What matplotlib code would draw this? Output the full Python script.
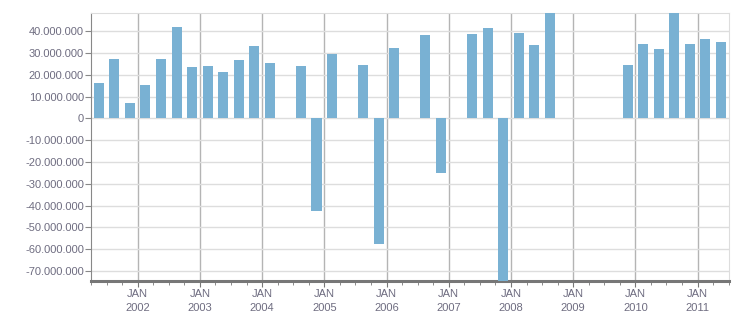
import matplotlib
matplotlib.use('Agg')
import matplotlib.pyplot as plt
import matplotlib.ticker as ticker

# quarterly values in millions (empty quarters are left out)
quarters = ['2001Q2', '2001Q3', '2001Q4',
            '2002Q1', '2002Q2', '2002Q3', '2002Q4',
            '2003Q1', '2003Q2', '2003Q3', '2003Q4',
            '2004Q1', '2004Q3', '2004Q4',
            '2005Q1', '2005Q3', '2005Q4',
            '2006Q1', '2006Q3', '2006Q4',
            '2007Q2', '2007Q3', '2007Q4',
            '2008Q1', '2008Q2', '2008Q3',
            '2009Q4',
            '2010Q1', '2010Q2', '2010Q3', '2010Q4',
            '2011Q1', '2011Q2']
values = [16.2, 27.3, 7.0,
          15.3, 27.3, 42.0, 23.6,
          24.0, 21.3, 26.8, 33.2,
          25.4, 24.0, -42.5,
          29.6, 24.5, -57.7,
          32.3, 38.3, -25.1,
          38.7, 41.5, -80.0,
          39.2, 33.7, 52.0,
          24.5,
          34.1, 31.9, 52.0, 34.1,
          36.4, 35.1]
years = list(range(2002, 2012))
year_labels = ['JAN\n%d' % y for y in years]

# quarter -> middle of the quarter, in fractional years
x = [int(q[:4]) + (int(q[-1]) - 1) / 4 + 0.125 for q in quarters]
y = [v * 1e6 for v in values]

txt = '#6e6c80'
fig = plt.figure(figsize=(7.51, 3.13), dpi=100)
ax = fig.add_axes([91 / 751, 32.3 / 313, 637.7 / 751, 267.4 / 313])

ax.bar(x, y, width=0.162, color='#79b1d3', zorder=3)

ax.set_xlim(2001.25, 2011.5)
ax.set_ylim(-74.5e6, 48.2e6)

ax.yaxis.set_major_locator(ticker.MultipleLocator(10e6))
ax.yaxis.set_major_formatter(ticker.FuncFormatter(
    lambda v, p: '{:,.0f}'.format(v).replace(',', '.')))
ax.set_xticks(years)
ax.set_xticklabels(year_labels)
ax.xaxis.set_minor_locator(ticker.MultipleLocator(0.25))

ax.grid(axis='y', color='#dddddd', lw=1, zorder=0)
ax.grid(axis='x', which='major', color='#b4b4b4', lw=1, zorder=0)
ax.set_axisbelow(True)

for s in ['top', 'right']:
    ax.spines[s].set_color('#dddddd')
ax.spines['left'].set_color('#888888')
ax.spines['bottom'].set_color('#777777')
ax.spines['bottom'].set_linewidth(2.2)

ax.tick_params(axis='y', length=4, color='#888888', labelcolor=txt,
               labelsize=8, pad=1)
ax.tick_params(axis='x', which='major', length=4, color='#777777',
               labelcolor=txt, labelsize=8, pad=2)
ax.tick_params(axis='x', which='minor', length=3, color='#777777')
for lab in ax.get_xticklabels() + ax.get_yticklabels():
    lab.set_family('Liberation Sans')
for lab in ax.get_xticklabels():
    lab.set_linespacing(1.45)

plt.savefig('out.png', dpi=100)
